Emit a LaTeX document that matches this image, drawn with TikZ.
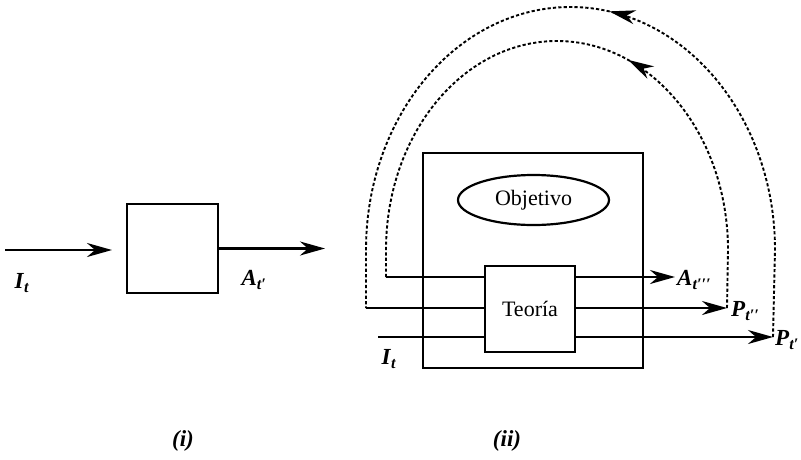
\documentclass[tikz,border=0pt]{standalone}
\usepackage{fontspec}
\setmainfont{Liberation Serif}
\usetikzlibrary{arrows.meta,shapes.geometric,decorations.markings}
\newcommand\lbl[2]{\textbf{\textit{#1}}\textsubscript{\textbf{\textit{#2}}}}
\begin{document}
\begin{tikzpicture}[x=1pt,y=-1pt,
  line/.style={line width=2.2pt},
  arr/.style={line, -{Stealth[length=25pt,width=14pt,inset=8pt]}},
  box/.style={draw,line width=2.2pt,inner sep=0pt},
  fb/.style={line width=1.9pt,dash pattern=on 3.2pt off 2.2pt},
  lab/.style={font=\fontsize{23}{26}\selectfont,inner sep=0pt},
  txt/.style={font=\fontsize{22}{25}\selectfont}
]
\useasboundingbox (0,0) rectangle (801,459);

% ---------- (i) ----------
\node[box,minimum width=91pt,minimum height=89pt] (b1) at (172.5,248.5) {};
\coordinate (i1s) at (5,250);
\coordinate (i1e) at (112,250);
\coordinate (o1e) at (325,248.5);
\draw[arr] (i1s) -- (i1e);
\draw[arr] (b1.east) -- (o1e);
\node[lab] (lI1) at (22,283) {\lbl{I}{t}};
\node[lab] (lA1) at (254,280) {\lbl{A}{t′}};
\node[lab] (cap1) at (183,441) {\textbf{\textit{(i)}}};

% ---------- (ii) ----------
\node[box,minimum width=220pt,minimum height=215pt] (outer) at (533,260.5) {};
\node[draw,ellipse,line width=2.2pt,minimum width=151pt,minimum height=50pt,inner sep=0pt,txt] (obj) at (533.5,200) {Objetivo};
\node[box,minimum width=90pt,minimum height=86pt,txt] (teo) at (530,309) {Teoría};

\coordinate (a0) at (386,277);
\coordinate (a1) at (675,277);
\coordinate (m0) at (366,308);
\coordinate (m1) at (727,308);
\coordinate (c0) at (378,337);
\coordinate (c1) at (773,337);

\draw[line] (a0) -- (teo.west |- a0);
\draw[arr] (teo.east |- a0) -- (a1);
\draw[line] (m0) -- (teo.west |- m0);
\draw[arr] (teo.east |- m0) -- (m1);
\draw[line] (c0) -- (teo.west |- c0);
\draw[arr] (teo.east |- c0) -- (c1);

\node[lab,anchor=west] (lA2) at (677,280) {\lbl{A}{t′′′}};
\node[lab,anchor=west] (lP2) at (731,311) {\lbl{P}{t′′}};
\node[lab,anchor=west] (lP1) at (775,340) {\lbl{P}{t′}};
\node[lab] (lI2) at (389,359) {\lbl{I}{t}};

% feedback loops
\draw[fb,postaction={decorate},decoration={markings,
   mark=at position 283pt with {\arrow{Stealth[length=26pt,width=14pt,inset=8pt]}}}]
  (m1) -- (728,250) arc[start angle=0,end angle=180,x radius=171pt,y radius=209pt] -- (a0);
\draw[fb,postaction={decorate},decoration={markings,
   mark=at position 400pt with {\arrow{Stealth[length=26pt,width=14pt,inset=8pt]}}}]
  (c1) -- (775,250) arc[start angle=0,end angle=180,x radius=204.5pt,y radius=243pt] -- (m0);

\node[lab] (cap2) at (507,441) {\textbf{\textit{(ii)}}};
\end{tikzpicture}
\end{document}
